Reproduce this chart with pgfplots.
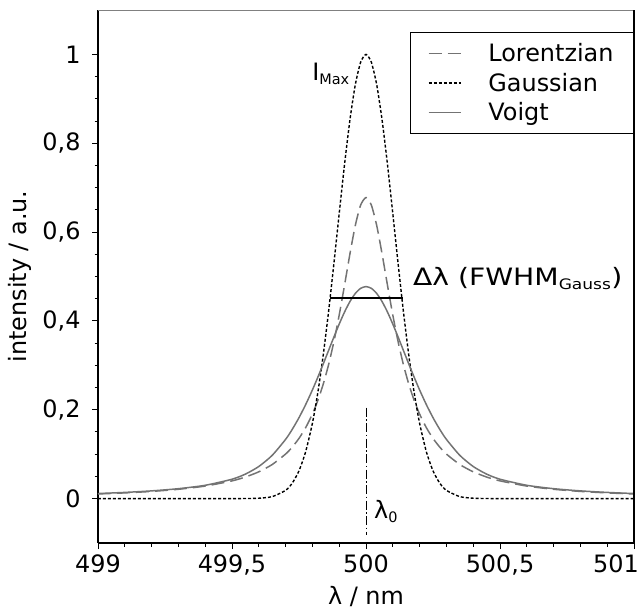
\documentclass[border=0pt]{standalone}
\usepackage{pgfplots}
\pgfplotsset{compat=1.18}
\usepackage{pgfplotstable}
\usepackage{fontspec}
\setmainfont{DejaVu Sans}
\newfontfamily\widefont[FakeStretch=1.18]{DejaVu Sans}
\newcommand\fs{\fontsize{24}{28}\selectfont}
\newcommand\sub{\fontsize{14.5}{16}\selectfont}
\definecolor{curvegray}{gray}{0.45}

\pgfplotstableread{
x L G V
499.000 0.01043 0 0.01134
499.100 0.01283 0 0.01387
499.200 0.01615 0 0.01733
499.300 0.02094 0 0.02228
499.400 0.02819 0 0.02991
499.500 0.03986 0.00002 0.04357
499.550 0.04855 0.00013 0.05512
499.600 0.06029 0.00083 0.07222
499.650 0.07666 0.00437 0.09738
499.700 0.10025 0.01846 0.13331
499.725 0.11604 0.03492 0.15605
499.750 0.13554 0.06250 0.18220
499.775 0.15983 0.10585 0.21178
499.800 0.19036 0.16960 0.24458
499.820 0.22049 0.23760 0.27284
499.840 0.25686 0.32123 0.30249
499.860 0.30061 0.41919 0.33293
499.880 0.35268 0.52794 0.36343
499.900 0.41323 0.64170 0.39291
499.920 0.48077 0.75286 0.42011
499.940 0.55080 0.85240 0.44357
499.960 0.61474 0.93149 0.46177
499.980 0.66078 0.98241 0.47333
500.000 0.67770 1.00000 0.47730
500.020 0.66078 0.98241 0.47333
500.040 0.61474 0.93149 0.46177
500.060 0.55080 0.85240 0.44357
500.080 0.48077 0.75286 0.42011
500.100 0.41323 0.64170 0.39291
500.120 0.35268 0.52794 0.36343
500.140 0.30061 0.41919 0.33293
500.160 0.25686 0.32123 0.30249
500.180 0.22049 0.23760 0.27284
500.200 0.19036 0.16960 0.24458
500.225 0.15983 0.10585 0.21178
500.250 0.13554 0.06250 0.18220
500.275 0.11604 0.03492 0.15605
500.300 0.10025 0.01846 0.13331
500.350 0.07666 0.00437 0.09738
500.400 0.06029 0.00083 0.07222
500.450 0.04855 0.00013 0.05512
500.500 0.03986 0.00002 0.04357
500.600 0.02819 0 0.02991
500.700 0.02094 0 0.02228
500.800 0.01615 0 0.01733
500.900 0.01283 0 0.01387
501.000 0.01043 0 0.01134
}\profiles

\pgfplotstableread{
x y
500 0.205
500 -0.082
}\centerline

\pgfplotstableread{
x y
499.865 0.452
500.138 0.452
}\fwhmline

\begin{document}
\begin{tikzpicture}
\begin{axis}[
  name=ax,
  scale only axis,
  width=536bp, height=533bp,
  xmin=499, xmax=501, ymin=-0.1, ymax=1.1,
  axis x line*=bottom, axis y line*=left,
  axis line style={line width=1.3pt, black},
  xtick={499,499.5,500,500.5,501},
  xticklabels={499,{499,5},500,{500,5},{\hspace*{-36bp}501}},
  ytick={0,0.2,0.4,0.6,0.8,1},
  yticklabels={0,{0,2},{0,4},{0,6},{0,8},1},
  minor x tick num=4, minor y tick num=3,
  tick align=outside,
  major tick length=6bp, minor tick length=3.5bp,
  every tick/.style={black, line width=1pt},
  tick label style={font=\fs},
  xticklabel style={yshift=-2bp},
  yticklabel style={xshift=-8bp},
  xlabel={λ / nm}, ylabel={intensity / a.u.},
  label style={font=\fs},
  xlabel style={yshift=-4bp},
  ylabel style={yshift=4bp},
  legend style={at={(1,0.9587)}, anchor=north east, draw=black, line width=1pt,
    font=\fs, inner xsep=17bp, inner ysep=8bp, row sep=4bp,
    nodes={inner sep=3bp}},
  legend cell align=left,
  legend image code/.code={\draw[#1] (0bp,0bp) -- (32bp,0bp);},
]
\addplot[curvegray, line width=1.5pt, dash pattern=on 13bp off 6bp, smooth, tension=0.4] table[x=x,y=L] {\profiles};
\addlegendentry{\hspace*{24bp}Lorentzian}
\addplot[black, line width=1.4pt, dash pattern=on 3bp off 2bp, smooth, tension=0.4] table[x=x,y=G] {\profiles};
\addlegendentry{\hspace*{24bp}Gaussian}
\addplot[curvegray, line width=1.5pt, smooth, tension=0.4] table[x=x,y=V] {\profiles};
\addlegendentry{\hspace*{24bp}Voigt}
\addplot[black, line width=1pt, dash pattern=on 9bp off 2.5bp on 1.5bp off 2.5bp, forget plot] table[x=x,y=y] {\centerline};
\addplot[black, line width=1.6pt, forget plot] table[x=x,y=y] {\fwhmline};
\node[anchor=base east, font=\fs, inner sep=0pt] at (axis cs:499.94,0.941) {I\textsubscript{\sub Max}};
\node[anchor=base west, font=\fs, inner sep=0pt] at (axis cs:500.175,0.479) {\widefont Δλ (FWHM\textsubscript{\sub Gauss})};
\node[anchor=base west, font=\fs, inner sep=0pt] at (axis cs:500.03,-0.045) {λ\textsubscript{\sub 0}};
\end{axis}
\draw[gray, line width=0.7pt] (ax.north west) -- (ax.north east);
\draw[black, line width=1.3pt] (ax.south east) -- (ax.north east);
\pgfresetboundingbox
\path ([shift={(-98bp,-72bp)}]ax.south west) rectangle ([shift={(7bp,10bp)}]ax.north east);
\end{tikzpicture}
\end{document}
